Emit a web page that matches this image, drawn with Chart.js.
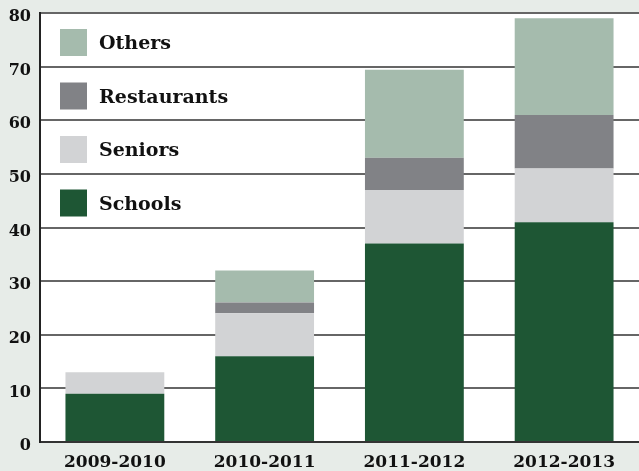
<!DOCTYPE html>
<html><head><meta charset="utf-8">
<style>html,body{margin:0;padding:0;background:#e7ece8;}#wrap{width:639px;height:471px;}</style>
<script src="https://cdn.jsdelivr.net/npm/chart.js@4.4.0/dist/chart.umd.min.js"></script>
</head><body><div id="wrap"><canvas id="c" width="639" height="471"></canvas></div>
<script>
const categories = ['2009-2010','2010-2011','2011-2012','2012-2013'];
const schools = [9, 16, 37, 41];
const seniors = [4, 8, 10, 10];
const restaurants = [0, 2, 6, 10];
const others = [0, 6, 16.4, 18];
const seriesNames = ['Schools','Seniors','Restaurants','Others'];
const seriesColors = ['#1e5634','#d2d3d5','#818286','#a5bbad'];
const yMin = 0, yMax = 80, yStep = 10;

const FONT = "'DejaVu Serif', 'Liberation Serif', serif";

const bgPlugin = {
  id: 'bg',
  beforeDraw(chart) {
    const {ctx, chartArea: a} = chart;
    ctx.save();
    ctx.fillStyle = '#e7ece8';
    ctx.fillRect(0, 0, chart.width, chart.height);
    ctx.fillStyle = '#ffffff';
    ctx.fillRect(a.left, a.top, a.right - a.left, a.bottom - a.top);
    ctx.restore();
  }
};

const legendPlugin = {
  id: 'insideLegend',
  afterDraw(chart) {
    const {ctx, chartArea: a} = chart;
    const ds = chart.data.datasets.slice().reverse();
    ctx.save();
    ds.forEach((d, i) => {
      const cy = a.top + 29.5 + 53.5 * i;
      ctx.fillStyle = d.backgroundColor;
      ctx.fillRect(a.left + 20, cy - 13.5, 27, 27);
      ctx.fillStyle = '#111';
      ctx.font = "bold 19px " + FONT;
      ctx.textBaseline = 'middle';
      ctx.textAlign = 'left';
      ctx.fillText(d.label, a.left + 59, cy + 2);
    });
    ctx.restore();
  }
};

const seriesData = [schools, seniors, restaurants, others];
new Chart(document.getElementById('c'), {
  type: 'bar',
  data: {
    labels: categories,
    datasets: seriesNames.map((n, i) => ({
      label: n,
      data: seriesData[i],
      backgroundColor: seriesColors[i],
      borderWidth: 0,
      barPercentage: 0.66,
      categoryPercentage: 1.0
    }))
  },
  options: {
    responsive: false,
    animation: false,
    devicePixelRatio: 1,
    layout: { padding: { top: 13, left: 0, right: 0, bottom: 0 } },
    plugins: { legend: { display: false }, tooltip: { enabled: false } },
    scales: {
      x: {
        stacked: true,
        grid: { display: false, drawTicks: false },
        border: { display: true, color: '#333', width: 2 },
        ticks: { color: '#111', font: { family: FONT, size: 17, weight: 'bold' }, padding: 10 },
        afterFit(s) { s.height = 29; s.paddingLeft = 0; s.paddingRight = 0; }
      },
      y: {
        stacked: true,
        min: yMin, max: yMax,
        grid: { color: '#666', lineWidth: 2, drawTicks: false },
        border: { display: true, color: '#222', width: 2 },
        ticks: { stepSize: yStep, color: '#111', font: { family: FONT, size: 16, weight: 'bold' }, padding: 9, labelOffset: 4 },
        afterFit(s) { s.width = 40; s.paddingTop = 0; s.paddingBottom = 0; }
      }
    }
  },
  plugins: [bgPlugin, legendPlugin]
});
</script>
</body></html>
